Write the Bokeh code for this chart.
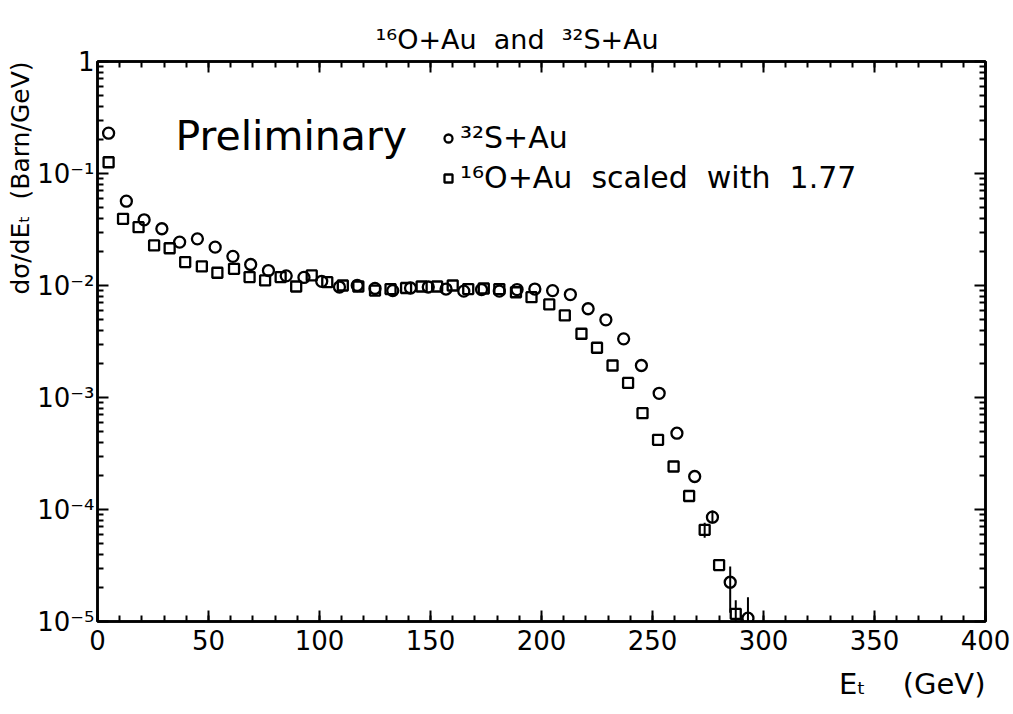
import math
from bokeh.plotting import figure
from bokeh.models import (FixedTicker, LinearAxis, LogAxis, Label, Legend, LegendItem,
                          Range1d, CustomJSTickFormatter, Title)
from bokeh.embed import file_html
from bokeh.resources import INLINE

# ---- data ----
# 32S+Au (circles)
s_et = [5, 13, 21, 29, 37, 45, 53, 61, 69, 77, 85, 93, 101, 109, 117, 125, 133, 141, 149,
        157, 165, 173, 181, 189, 197, 205, 213, 221, 229, 237, 245, 253, 261, 269, 277, 285, 293]
s_val = [0.229, 0.0566, 0.0386, 0.0321, 0.0244, 0.0261, 0.0220, 0.0182, 0.0154, 0.0136,
         0.0122, 0.0118, 0.0109, 0.0097, 0.0100, 0.0094, 0.0090, 0.0095, 0.0097, 0.0093,
         0.0089, 0.0092, 0.0089, 0.0092, 0.0093, 0.0090, 0.0083, 0.0062, 0.00494, 0.00334,
         0.00193, 0.00109, 0.00048, 0.000197, 0.0000854, 0.0000224, 0.0000107]
# 16O+Au scaled with 1.77 (squares)
o_et = [5, 11.5, 18.5, 25.5, 32.5, 39.5, 47, 54, 61.5, 68.5, 75.5, 82.5, 89.5, 96.5, 103.5,
        110.5, 117.5, 125, 132, 139, 146, 153, 160, 167, 174, 181, 188.5, 195.5, 203.5, 210.5,
        218, 225, 232, 239, 245.5, 252.5, 259.5, 266.5, 273.5, 280, 287.5]
o_val = [0.126, 0.0394, 0.0332, 0.0228, 0.0215, 0.0162, 0.0148, 0.0130, 0.0141, 0.0119,
         0.0111, 0.0119, 0.0098, 0.0123, 0.0107, 0.0100, 0.0098, 0.0090, 0.0093, 0.0095,
         0.0098, 0.0098, 0.0100, 0.0093, 0.0094, 0.0093, 0.0087, 0.00787, 0.00677, 0.0054,
         0.00371, 0.00278, 0.00193, 0.00135, 0.000724, 0.000419, 0.000242, 0.000132,
         0.0000659, 0.0000319, 0.0000117]
# visible error bars in the tail
err_et = [277, 285, 293, 273.5, 287.5]
err_lo = [0.000075, 0.000012, 0.00001, 0.000056, 0.00001]
err_hi = [0.000098, 0.000031, 0.0000165, 0.000076, 0.0000155]

x_ticks = [0, 50, 100, 150, 200, 250, 300, 350, 400]
y_ticks = [1e-5, 1e-4, 1e-3, 1e-2, 1e-1, 1.0]

NB = "\u00a0"
title_text = "\u00b9\u2076O+Au " + NB + "and " + NB + "\u00b3\u00b2S+Au"
legend_labels = ["\u00b3\u00b2S+Au",
                 "\u00b9\u2076O+Au " + NB + "scaled " + NB + "with " + NB + "1.77"]
y_title = "d\u03c3/dE\u209c " + NB + "(Barn/GeV)"
x_title = "E\u209c " + NB + NB + NB + "(GeV)"

FONT = "DejaVu Sans"
FL, FR, FT, FB = 97, 985, 61, 621   # frame edges on the canvas


def sx(px):
    return px - FL


def sy(py):
    return FB - py


p = figure(width=1013, height=714, x_range=Range1d(0, 400), y_range=Range1d(1e-5, 1),
           y_axis_type="log", output_backend="svg", toolbar_location=None,
           min_border_left=FL, min_border_right=1013 - FR, min_border_top=FT,
           min_border_bottom=714 - FB, background_fill_color="white",
           border_fill_color="white")
p.grid.visible = False
p.outline_line_color = "black"
p.outline_line_width = 2.5

p.title.text = title_text
p.title.text_font = FONT
p.title.text_font_size = "27px"
p.title.text_font_style = "normal"
p.title.text_color = "black"
p.title.align = "left"
p.title.offset = 278
p.title.standoff = 14

xt = FixedTicker(ticks=x_ticks, minor_ticks=list(range(0, 401, 10)))
yt = FixedTicker(ticks=y_ticks,
                 minor_ticks=[m * 10.0 ** e for e in range(-5, 0) for m in range(2, 10)])


def style(ax, labels=True):
    ax.axis_line_width = 2.5
    ax.axis_line_color = "black"
    ax.major_tick_in = 11
    ax.major_tick_out = 0
    ax.minor_tick_in = 6
    ax.minor_tick_out = 0
    ax.major_tick_line_width = 2
    ax.minor_tick_line_width = 2
    ax.major_label_text_font = FONT
    if labels:
        ax.major_label_text_font_size = "26px"
        ax.major_label_text_color = "black"
    else:
        ax.formatter = CustomJSTickFormatter(code="return '';")
        ax.major_label_text_font_size = "10px"
        ax.major_label_standoff = 0


for ax in p.xaxis:
    ax.ticker = xt
    style(ax)
    ax.major_label_standoff = 8
for ax in p.yaxis:
    ax.ticker = yt
    style(ax)
    ax.major_label_standoff = 3
    ax.formatter = CustomJSTickFormatter(code=r"""
        if (tick > 0.5) { return '1'; }
        const e = Math.round(Math.log10(tick));
        const sup = {'-': '\u207b', '0': '\u2070', '1': '\u00b9', '2': '\u00b2', '3': '\u00b3',
                     '4': '\u2074', '5': '\u2075', '6': '\u2076', '7': '\u2077', '8': '\u2078',
                     '9': '\u2079'};
        return '10' + String(e).split('').map(c => sup[c]).join('');
    """)
    ax.major_label_orientation = "horizontal"

top = LinearAxis(ticker=xt)
style(top, labels=False)
p.add_layout(top, "above")
right = LogAxis(ticker=yt)
style(right, labels=False)
p.add_layout(right, "right")

# axis titles as side titles
p.add_layout(Title(text=y_title, align="right", offset=0, standoff=0,
                   text_font=FONT, text_font_size="25px", text_font_style="normal",
                   text_color="black"), "left")
p.add_layout(Title(text=x_title, align="right", offset=0, standoff=24,
                   text_font=FONT, text_font_size="29px", text_font_style="normal",
                   text_color="black"), "below")

# data
p.segment(x0=err_et, y0=err_lo, x1=err_et, y1=err_hi, line_color="black", line_width=2)
r_s = p.scatter(s_et, s_val, marker="circle", size=11, fill_color=None,
                line_color="black", line_width=2.3)
r_o = p.scatter(o_et, o_val, marker="square", size=10, fill_color=None,
                line_color="black", line_width=2.3)

legend = Legend(items=[LegendItem(label=legend_labels[0], renderers=[r_s]),
                       LegendItem(label=legend_labels[1], renderers=[r_o])],
                location=(sx(438), sy(195)), padding=0, margin=0, spacing=5,
                glyph_width=20, glyph_height=34, label_height=34, label_standoff=2,
                border_line_color=None, background_fill_alpha=0,
                label_text_font=FONT, label_text_font_size="30px",
                label_text_color="black")
p.add_layout(legend)

p.add_layout(Label(x=sx(175), y=sy(135), x_units="screen", y_units="screen",
                   text="Preliminary", text_font=FONT, text_font_size="41px",
                   text_color="black", text_baseline="alphabetic"))

open("out.html", "w").write(file_html(p, INLINE))
